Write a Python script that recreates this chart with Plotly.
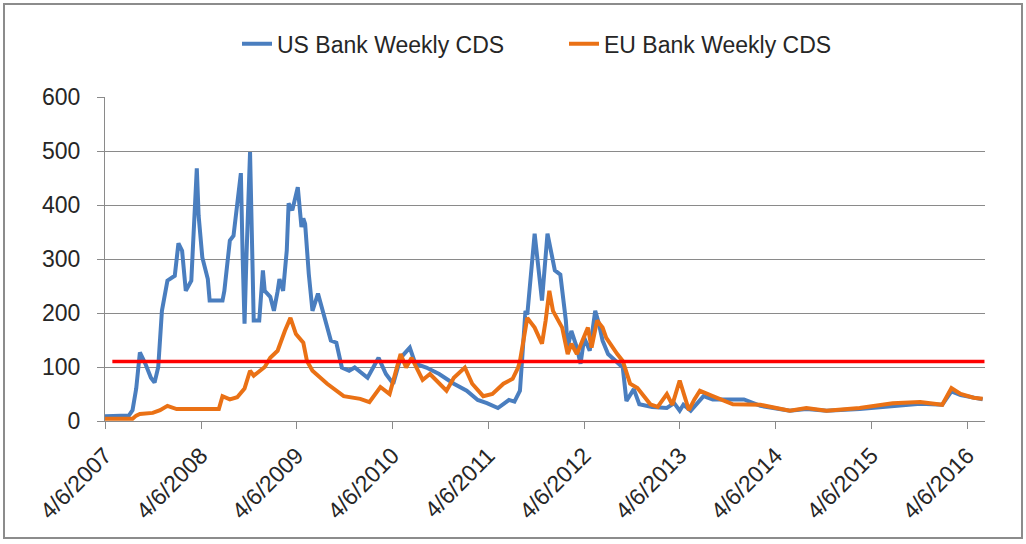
import pandas as pd
import plotly.graph_objects as go

START = "2007-04-06"

# weeks since 4/6/2007 and values
us_weeks = [0, 5, 13, 15, 17, 19, 22, 25, 27, 29, 31, 34, 38, 40, 42, 44, 46, 47, 50, 51,
            53, 56, 57, 64, 65, 68, 70, 72, 74, 75, 76, 77, 79, 81, 84, 86, 87, 90, 92, 94,
            95, 97, 99, 100, 102, 105, 107, 108, 109, 111, 113, 116, 119, 123, 126, 129, 133, 136, 143, 149,
            153, 157, 161, 166, 169, 175, 182, 190, 197, 203, 208, 214, 220, 223, 226, 229, 230, 234, 238, 241,
            245, 248, 251, 252, 254, 257, 259, 261, 264, 267, 269, 271, 274, 278, 282, 284, 288, 291, 298, 306,
            310, 313, 315, 319, 326, 331, 348, 357, 373, 382, 393, 411, 429, 444, 456, 461, 466, 473, 478]
us_cds = [9, 9, 10, 20, 60, 127, 106, 80, 71, 100, 204, 260, 269, 329, 315, 241, 256, 260, 468, 380,
          303, 263, 223, 223, 241, 334, 343, 410, 459, 300, 180, 300, 498, 186, 186, 279, 241, 230, 204, 240,
          263, 241, 316, 403, 390, 433, 359, 375, 365, 272, 204, 236, 199, 149, 145, 99, 93, 99, 80, 117,
          87, 69, 117, 136, 106, 99, 87, 69, 56, 39, 33, 24, 39, 36, 56, 204, 197, 347, 223, 347,
          279, 271, 186, 136, 167, 136, 106, 154, 130, 204, 180, 149, 124, 112, 99, 37, 59, 31, 26, 24,
          33, 19, 30, 19, 46, 40, 40, 28, 19, 22, 19, 22, 28, 32, 30, 55, 48, 43, 40]

eu_weeks = [0, 15, 17, 19, 26, 30, 34, 39, 62, 64, 68, 72, 76, 79, 81, 84, 87, 90, 94, 98,
            101, 104, 106, 108, 110, 113, 121, 130, 139, 144, 150, 155, 161, 164, 167, 173, 177, 186, 190, 196,
            200, 206, 211, 217, 222, 225, 226, 229, 230, 234, 238, 240, 242, 244, 247, 249, 252, 254, 257, 263,
            265, 268, 271, 273, 279, 282, 286, 290, 297, 301, 306, 309, 313, 318, 321, 324, 331, 342, 357, 373,
            382, 393, 411, 429, 444, 456, 461, 466, 473, 478]
eu_cds = [4, 4, 10, 13, 15, 20, 28, 22, 22, 46, 40, 44, 60, 93, 84, 93, 100, 117, 130, 167,
          191, 161, 154, 145, 111, 93, 69, 46, 41, 35, 63, 50, 124, 99, 117, 76, 87, 56, 80, 99,
          69, 46, 50, 69, 78, 99, 111, 167, 191, 173, 143, 186, 241, 204, 186, 173, 124, 143, 124, 173,
          136, 186, 173, 154, 124, 111, 69, 61, 31, 26, 50, 30, 75, 20, 40, 56, 46, 31, 30, 19,
          24, 19, 24, 33, 35, 30, 61, 50, 43, 41]

threshold_weeks = [4, 479]
threshold = [110, 110]

tick_dates = ["2007-04-06", "2008-04-06", "2009-04-06", "2010-04-06", "2011-04-06",
              "2012-04-06", "2013-04-06", "2014-04-06", "2015-04-06", "2016-04-06"]
tick_text = ["4/6/2007", "4/6/2008", "4/6/2009", "4/6/2010", "4/6/2011",
             "4/6/2012", "4/6/2013", "4/6/2014", "4/6/2015", "4/6/2016"]

def to_dates(weeks):
    return pd.Timestamp(START) + pd.to_timedelta([7 * w for w in weeks], unit="D")

FONT = "Liberation Sans, Arial, sans-serif"
GRID = "#8a8a8a"

fig = go.Figure()
fig.add_trace(go.Scatter(x=to_dates(us_weeks), y=us_cds, mode="lines", name="US Bank Weekly CDS",
                         line=dict(color="#4a7ebf", width=4)))
fig.add_trace(go.Scatter(x=to_dates(eu_weeks), y=eu_cds, mode="lines", name="EU Bank Weekly CDS",
                         line=dict(color="#ea7115", width=4)))
fig.add_trace(go.Scatter(x=to_dates(threshold_weeks), y=threshold, mode="lines", showlegend=False,
                         line=dict(color="#ff0000", width=3.5)))

fig.update_layout(
    width=1026, height=544,
    margin=dict(l=105, r=41, t=97, b=123),
    paper_bgcolor="white", plot_bgcolor="white",
    font=dict(family=FONT, size=23, color="#262626"),
    showlegend=True,
    legend=dict(orientation="h", x=(237 - 105) / 880, xanchor="left", y=1.164, yanchor="middle",
                entrywidth=282, entrywidthmode="pixels",
                font=dict(size=23, color="#262626"), bgcolor="rgba(0,0,0,0)"),
    xaxis=dict(type="date", range=["2007-04-06", "2016-06-12"],
               tickvals=tick_dates, ticktext=tick_text, tickangle=-45,
               showgrid=False, showline=True, linecolor=GRID, linewidth=1,
               ticks="outside", ticklen=7, tickcolor=GRID, ticklabelstandoff=4),
    yaxis=dict(range=[0, 600], tickvals=[0, 100, 200, 300, 400, 500, 600],
               showgrid=True, gridcolor=GRID, gridwidth=1, zeroline=False,
               showline=True, linecolor=GRID, linewidth=1,
               ticks="outside", ticklen=7, tickcolor=GRID, ticklabelstandoff=12),
    shapes=[dict(type="rect", xref="paper", yref="paper",
                 x0=(4 - 105) / 880, x1=(1022 - 105) / 880,
                 y0=(421 - 538) / 324, y1=(421 - 4) / 324,
                 line=dict(color="#8c8c8c", width=2), fillcolor="rgba(0,0,0,0)", layer="below")],
)

fig.write_html("out.html")
